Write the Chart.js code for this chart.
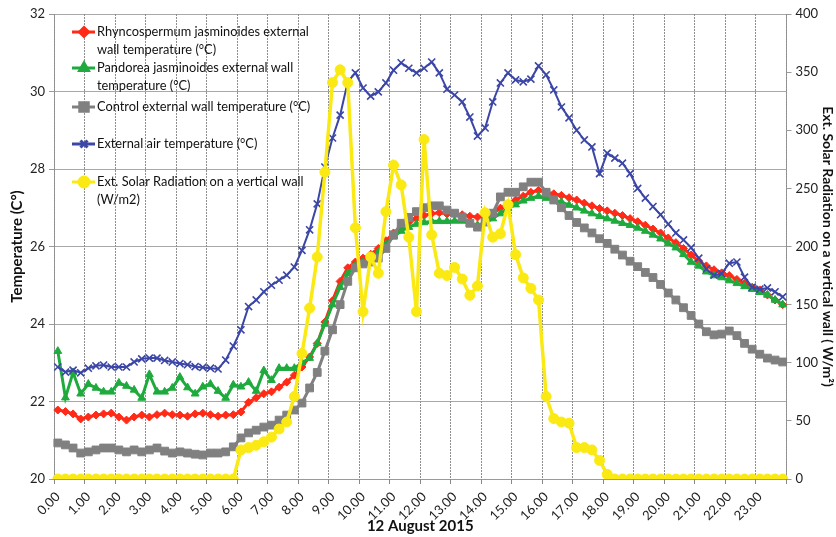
<!DOCTYPE html>
<html>
<head>
<meta charset="utf-8">
<script src="https://cdn.jsdelivr.net/npm/chart.js@4"></script>
<style>
  html, body { margin: 0; padding: 0; background: #fff; }
  #wrap { width: 836px; height: 537px; }
</style>
</head>
<body>
<div id="wrap"><canvas id="chart" width="836" height="537"></canvas></div>
<script>
// hour tick labels shown on the x axis (one every 4 quarter-hour samples)
const hourLabels = ["0.00","1.00","2.00","3.00","4.00","5.00","6.00","7.00","8.00","9.00","10.00","11.00",
  "12.00","13.00","14.00","15.00","16.00","17.00","18.00","19.00","20.00","21.00","22.00","23.00"];
const quarters = ["00", "15", "30", "45"];

// Rhyncospermum jasminoides external wall temperature (°C)
const rhyncoTemp = [
  21.78, 21.74, 21.68, 21.55, 21.6, 21.65, 21.68, 21.7, 21.6, 21.52, 21.6, 21.65,
  21.6, 21.66, 21.7, 21.66, 21.65, 21.62, 21.68, 21.7, 21.66, 21.62, 21.65, 21.66,
  21.73, 21.98, 22.1, 22.2, 22.25, 22.37, 22.5, 22.68, 22.89, 23.15, 23.5, 24.05,
  24.6, 25.1, 25.45, 25.6, 25.7, 25.8, 25.95, 26.15, 26.35, 26.5, 26.62, 26.72,
  26.8, 26.85, 26.87, 26.84, 26.84, 26.82, 26.78, 26.76, 26.78, 26.85, 26.99, 27.1,
  27.2, 27.3, 27.4, 27.45, 27.4, 27.36, 27.32, 27.26, 27.2, 27.12, 27.05, 26.98,
  26.92, 26.86, 26.8, 26.72, 26.64, 26.55, 26.45, 26.35, 26.22, 26.1, 25.95, 25.78,
  25.62, 25.5, 25.4, 25.32, 25.25, 25.15, 25.05, 24.95, 24.88, 24.75, 24.62, 24.5
];

// Pandorea jasminoides external wall temperature (°C)
const pandoreaTemp = [
  23.3, 22.1, 22.75, 22.2, 22.45, 22.35, 22.25, 22.25, 22.48, 22.4, 22.3, 22.09,
  22.7, 22.25, 22.25, 22.35, 22.63, 22.36, 22.2, 22.38, 22.45, 22.27, 22.09, 22.43,
  22.38, 22.5, 22.27, 22.8, 22.55, 22.86, 22.86, 22.86, 23.0, 23.12, 23.5, 24.0,
  24.5, 24.95, 25.3, 25.5, 25.6, 25.68, 25.85, 26.05, 26.25, 26.4, 26.5, 26.58,
  26.62, 26.65, 26.65, 26.65, 26.66, 26.66, 26.6, 26.55, 26.6, 26.72, 26.85, 26.98,
  27.08, 27.18, 27.25, 27.3, 27.25, 27.2, 27.15, 27.07, 27.0, 26.92, 26.85, 26.78,
  26.72, 26.66, 26.6, 26.55, 26.48, 26.4, 26.3, 26.2, 26.08, 25.97, 25.8, 25.6,
  25.5, 25.35, 25.25, 25.2, 25.12, 25.05, 24.97, 24.9, 24.82, 24.75, 24.62, 24.5
];

// Control external wall temperature (°C)
const controlTemp = [
  20.93, 20.88, 20.8, 20.67, 20.7, 20.75, 20.8, 20.8, 20.75, 20.7, 20.75, 20.7,
  20.75, 20.8, 20.72, 20.67, 20.7, 20.67, 20.64, 20.62, 20.67, 20.67, 20.7, 20.83,
  21.06, 21.19, 21.26, 21.34, 21.39, 21.52, 21.65, 21.78, 21.96, 22.35, 22.75, 23.3,
  23.85, 24.5, 25.1, 25.45, 25.55, 25.6, 25.7, 25.95, 26.3, 26.6, 26.75, 26.9,
  27.0, 27.05, 27.05, 26.94, 26.86, 26.76, 26.6, 26.5, 26.63, 26.86, 27.28, 27.4,
  27.4, 27.54, 27.66, 27.66, 27.4, 27.2, 27.0, 26.8, 26.62, 26.48, 26.35, 26.2,
  26.08, 25.93, 25.78, 25.62, 25.48, 25.33, 25.2, 25.02, 24.8, 24.62, 24.42, 24.22,
  24.0, 23.8, 23.72, 23.74, 23.82, 23.7, 23.5, 23.35, 23.22, 23.12, 23.07, 23.02
];

// External air temperature (°C)
const airTemp = [
  22.89, 22.76, 22.81, 22.74, 22.86, 22.92, 22.94, 22.89, 22.89, 22.89, 23.02, 23.1,
  23.12, 23.12, 23.06, 23.02, 22.98, 22.95, 22.9, 22.88, 22.86, 22.84, 23.07, 23.43,
  23.85, 24.45, 24.62, 24.83, 25.0, 25.13, 25.26, 25.47, 25.9, 26.43, 27.1, 28.05,
  28.8, 29.39, 30.25, 30.48, 30.09, 29.88, 29.99, 30.22, 30.55, 30.74, 30.6, 30.48,
  30.6, 30.76, 30.48, 30.06, 29.91, 29.73, 29.34, 28.85, 29.06, 29.73, 30.22, 30.48,
  30.3, 30.25, 30.32, 30.66, 30.43, 30.04, 29.6, 29.32, 29.0, 28.75, 28.57, 27.88,
  28.41, 28.28, 28.15, 27.88, 27.5, 27.25, 27.03, 26.82, 26.58, 26.35, 26.17, 25.97,
  25.7, 25.42, 25.26, 25.3, 25.57, 25.6, 25.21, 24.95, 24.9, 24.93, 24.83, 24.7
];

// Ext. solar radiation on a vertical wall (W/m2)
const solarRad = [
  0, 0, 0, 0, 0, 0, 0, 0, 0, 0, 0, 0,
  0, 0, 0, 0, 0, 0, 0, 0, 0, 0, 0, 0,
  25, 27, 29, 32, 36, 43, 49, 71, 108, 147, 191, 264,
  341, 352, 341, 216, 144, 191, 177, 230, 270, 253, 208, 144,
  292, 210, 177, 175, 182, 172, 158, 166, 229, 208, 211, 236,
  193, 173, 164, 154, 71, 52, 49, 48, 27, 27, 25, 16,
  4, 0, 0, 0, 0, 0, 0, 0, 0, 0, 0, 0,
  0, 0, 0, 0, 0, 0, 0, 0, 0, 0, 0, 0
];

// one category per quarter hour
const categories = [];
hourLabels.forEach(h => {
  const base = h.split(".")[0];
  quarters.forEach(q => categories.push(base + "." + q));
});

const FONT = "Lato";
const RED = "#ff2a17", GREEN = "#1faa3e", GREY = "#808080", BLUE = "#3b46a6", YELLOW = "#fbe914";
const AXIS = "#9a9a9a";

const legendItems = [
  { lines: ["Rhyncospermum jasminoides external", "wall temperature (°C)"], y: 32, color: RED, style: "rectRot", r: 4.5 },
  { lines: ["Pandorea jasminoides external wall", "temperature (°C)"], y: 68, color: GREEN, style: "triangle", r: 5 },
  { lines: ["Control external wall temperature (°C)"], y: 107, color: GREY, style: "rect", r: 6 },
  { lines: ["External air temperature (°C)"], y: 144, color: BLUE, style: "crossRot", r: 5 },
  { lines: ["Ext. Solar Radiation on a vertical wall", "(W/m2)"], y: 182, color: YELLOW, style: "circle", r: 5 }
];

// dotted vertical grid line at each hour boundary, plus a tick mark under the axis
const hourGrid = {
  id: "hourGrid",
  beforeDatasetsDraw(chart) {
    const ctx = chart.ctx;
    const xs = chart.scales.x;
    const top = Math.round(xs.chart.chartArea.top);
    const bottom = Math.round(xs.top);
    const n = hourLabels.length;
    ctx.save();
    for (let h = 0; h <= n; h++) {
      const px = Math.floor(xs.left + (xs.right - xs.left) * h / n);
      ctx.fillStyle = "#8e8e8e";
      for (let y = top; y < bottom; y += 3) ctx.fillRect(px, y, 1, 2);
      ctx.fillStyle = "#888";
      ctx.fillRect(px, bottom, 1, 5);
    }
    ctx.restore();
  }
};

// legend drawn inside the plot, with wrapped text like the original
const insideLegend = {
  id: "insideLegend",
  afterDraw(chart) {
    const ctx = chart.ctx;
    ctx.save();
    legendItems.forEach(item => {
      ctx.strokeStyle = item.color;
      ctx.lineWidth = 3;
      ctx.beginPath();
      ctx.moveTo(72, item.y);
      ctx.lineTo(95, item.y);
      ctx.stroke();
      ctx.fillStyle = item.color;
      Chart.helpers.drawPoint(ctx, {
        pointStyle: item.style, radius: item.r, rotation: 0,
        borderWidth: item.style === "crossRot" ? 1.5 : 1
      }, 84, item.y);
      ctx.fillStyle = "#111";
      ctx.font = "12.8px " + FONT;
      ctx.textBaseline = "middle";
      ctx.textAlign = "left";
      item.lines.forEach((t, k) => ctx.fillText(t, 97, item.y + k * 17.5));
    });
    ctx.restore();
  }
};

function series(label, data, color, style, radius, lineWidth, axis, order) {
  return {
    label, data, yAxisID: axis, order,
    borderColor: color, backgroundColor: color,
    pointBorderColor: color, pointBackgroundColor: color,
    borderWidth: lineWidth, pointStyle: style, pointRadius: radius,
    pointBorderWidth: style === "crossRot" ? 1.6 : 1,
    tension: 0
  };
}

const titleFont = { family: FONT, size: 15, weight: "bold" };
const tickFont = { family: FONT, size: 13 };

new Chart(document.getElementById("chart"), {
  type: "line",
  data: {
    labels: categories,
    datasets: [
      series("Rhyncospermum jasminoides external wall temperature (°C)", rhyncoTemp, RED, "rectRot", 4, 3, "y", 5),
      series("Pandorea jasminoides external wall temperature (°C)", pandoreaTemp, GREEN, "triangle", 4.5, 3, "y", 4),
      series("Control external wall temperature (°C)", controlTemp, GREY, "rect", 5.5, 3, "y", 3),
      series("External air temperature (°C)", airTemp, BLUE, "crossRot", 5, 2, "y", 2),
      series("Ext. Solar Radiation on a vertical wall (W/m2)", solarRad, YELLOW, "circle", 5, 3.5, "y1", 1)
    ]
  },
  options: {
    responsive: false,
    animation: false,
    layout: { padding: { top: 14, left: 0, right: 0, bottom: 0 } },
    plugins: { legend: { display: false }, tooltip: { enabled: false } },
    scales: {
      x: {
        type: "category",
        offset: true,
        afterFit(s) { s.height = 58; },
        grid: { display: false },
        border: { color: AXIS },
        ticks: {
          autoSkip: false, minRotation: 45, maxRotation: 45, padding: 2,
          color: "#222", font: tickFont,
          callback: (v, i) => (i % 4 === 0 ? hourLabels[i / 4] : "")
        },
        title: {
          display: true, text: "12 August 2015", padding: { top: 0, bottom: 2 },
          color: "#111", font: titleFont
        }
      },
      y: {
        position: "left", min: 20, max: 32,
        afterFit(s) { s.width = 54; },
        grid: { color: "#a8a8a8", tickColor: AXIS, tickLength: 5, lineWidth: 1 },
        border: { color: AXIS },
        ticks: { stepSize: 2, padding: 4, color: "#222", font: tickFont },
        title: {
          display: true, text: "Temperature (C°)", padding: { top: 8, bottom: 0 },
          color: "#111", font: titleFont
        }
      },
      y1: {
        position: "right", min: 0, max: 400,
        afterFit(s) { s.width = 49.5; },
        grid: { drawOnChartArea: false, tickColor: AXIS, tickLength: 5 },
        border: { color: AXIS },
        ticks: { stepSize: 50, padding: 4, color: "#222", font: tickFont },
        title: {
          display: true, text: "Ext. Solar Radiation on a vertical wall ( W/m²)", padding: { top: 0, bottom: 0 },
          color: "#111", font: { family: FONT, size: 14, weight: "bold" }
        }
      }
    }
  },
  plugins: [hourGrid, insideLegend]
});
</script>
</body>
</html>
